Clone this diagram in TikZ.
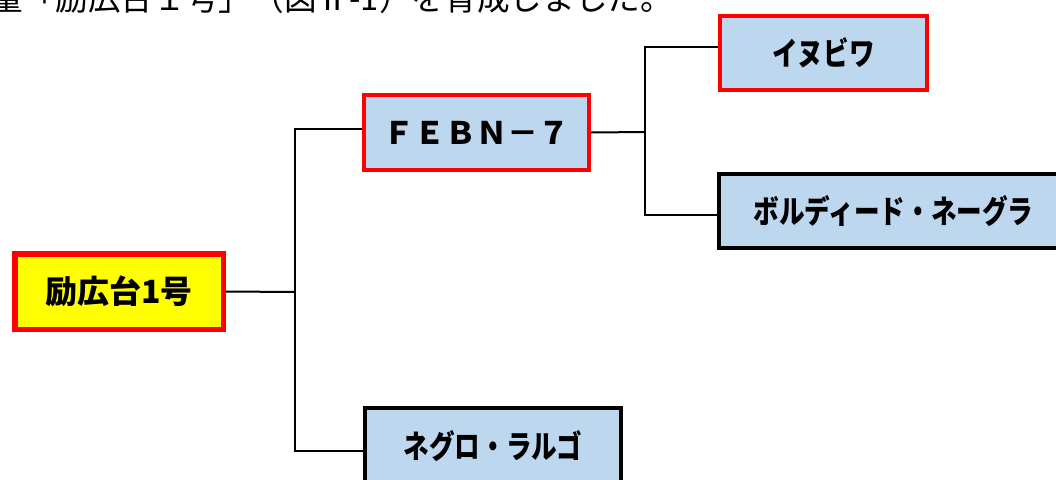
\documentclass[tikz,border=0pt]{standalone}
\usepackage{fontspec}
\newfontfamily\jp{Noto Sans CJK JP}
\newfontfamily\jpk{Noto Sans CJK JP}[FakeStretch=0.8]
\definecolor{boxblue}{RGB}{189,215,238}
\definecolor{boxred}{RGB}{255,0,0}
\definecolor{boxyellow}{RGB}{255,255,0}
\tikzset{
  stdbox/.style={draw=black, line width=4pt, fill=boxblue, inner sep=0pt, align=center,
    font=\jpk\bfseries\fontsize{32}{36}\selectfont},
  redbox/.style={stdbox, draw=boxred},
  rootbox/.style={stdbox, draw=boxred, fill=boxyellow, line width=5.5pt,
    font=\jp\bfseries\fontsize{32}{36}\selectfont},
  link/.style={draw=black, line width=2pt},
}
\begin{document}
\begin{tikzpicture}[x=1pt,y=-1pt]
\useasboundingbox (0,0) rectangle (1056,479);
\clip (0,0) rectangle (1056,479);
\node[anchor=base west, inner sep=0pt, font=\jp\fontsize{33}{36}\selectfont] (cap) at (-10,10)
  {\scalebox{0.99}[1]{量「励広台１号」（図Ⅱ-1）を育成しました。}};
\node[rootbox, minimum width=208.5pt, minimum height=75.5pt] (root) at (119,291.5) {励広台1号};
\node[redbox, minimum width=225pt, minimum height=75pt,
  font=\jp\bfseries\fontsize{31}{36}\selectfont] (febn) at (476.5,132.5) {ＦＥＢＮ－７};
\node[redbox, minimum width=207pt, minimum height=74pt] (inu) at (823.5,53) {イヌビワ};
\node[stdbox, minimum width=349pt, minimum height=74pt] (bol) at (893.5,211) {ボルディード・ネーグラ};
\node[stdbox, minimum width=256pt, minimum height=76pt] (negro) at (493,446) {ネグロ・ラルゴ};
\coordinate (j1) at (295,292);
\coordinate (j2) at (645,132);
\draw[link] (root.east) -- (j1);
\draw[link] ([yshift=3.5pt]febn.west) -| (j1);
\draw[link] ([yshift=-5pt]negro.west) -| (j1);
\draw[link] (febn.east) -- (j2);
\draw[link] ([yshift=6pt]inu.west) -| (j2);
\draw[link] ([yshift=-4pt]bol.west) -| (j2);
\end{tikzpicture}
\end{document}
